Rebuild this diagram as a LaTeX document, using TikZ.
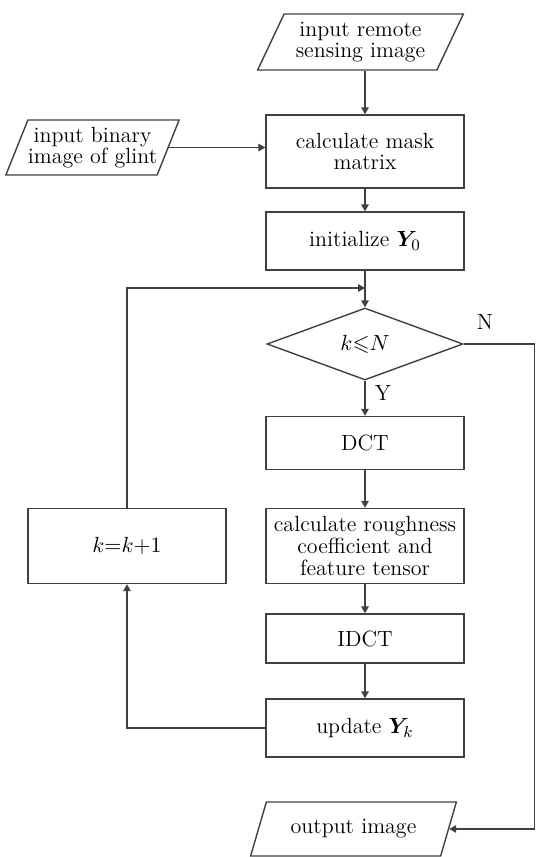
\documentclass[tikz,border=0pt]{standalone}
\usepackage{amsmath,amssymb,bm}
\usetikzlibrary{shapes.geometric,arrows.meta}
\begin{document}
\begin{tikzpicture}[x=0.5pt,y=-0.5pt,
  font=\fontsize{11}{10.8}\selectfont,
  ln/.style={draw=black!75, line width=0.7pt},
  arr/.style={ln, -{Triangle[length=3.5pt,width=3.8pt]}},
  box/.style={ln, rectangle, minimum width=99pt, align=center, inner sep=1pt},
  io/.style={ln, trapezium, trapezium stretches=true, align=center, inner sep=0pt},
  dec/.style={ln, diamond, minimum width=98pt, minimum height=36pt, inner sep=0pt},
  lbl/.style={font=\fontsize{11}{11}\selectfont}
]
\useasboundingbox (0,0) rectangle (536,857);
% inputs
\node[io, trapezium left angle=61, trapezium right angle=119,
      minimum width=103.5pt, minimum height=28pt] (in1) at (360.5,42) {input remote\\sensing image};
\node[io, trapezium left angle=62, trapezium right angle=118,
      minimum width=83.5pt, minimum height=27.5pt] (in2) at (92.5,147.5) {input binary\\image of glint};
% main column
\node[box, minimum height=36.5pt] (mask) at (365,151.5) {calculate mask\\matrix};
\node[box, minimum height=29pt] (init) at (365,241) {initialize $\bm{Y}_{0}$};
\node[dec] (dia) at (365,344) {$k{\leqslant}N$};
\node[box, minimum height=26.5pt] (dct) at (365,443) {DCT};
\node[box, minimum height=37.5pt] (rough) at (365,546) {calculate roughness\\coefficient and\\feature tensor};
\node[box, minimum height=24.5pt] (idct) at (365,638.5) {IDCT};
\node[box, minimum height=29pt] (upd) at (365,728) {update $\bm{Y}_{k}$};
\node[box, minimum height=37.5pt] (kbox) at (127,546) {$k{=}k{+}1$};
\node[io, trapezium left angle=59, trapezium right angle=121,
      minimum width=103.5pt, minimum height=27pt] (out) at (353.5,829) {output image};
% labels
\node[lbl] (lN) at (485,322) {N};
\node[lbl] (lY) at (383,393) {Y};
\coordinate (j) at (365,288);
% connectors
\draw[arr] (in1.south -| mask.north) -- (mask.north);
\draw[arr] (in2.east) -- (mask.west |- in2.east);
\draw[arr] (mask) -- (init);
\draw[arr] (init) -- (dia);
\draw[arr] (dia) -- (dct);
\draw[arr] (dct) -- (rough);
\draw[arr] (rough) -- (idct);
\draw[arr] (idct) -- (upd);
\draw[arr] (upd.west) -| (kbox.south);
\draw[arr] (kbox.north) |- (j);
\draw[arr] (dia.east) -- ++(71,0) |- (out.east);
\end{tikzpicture}
\end{document}
